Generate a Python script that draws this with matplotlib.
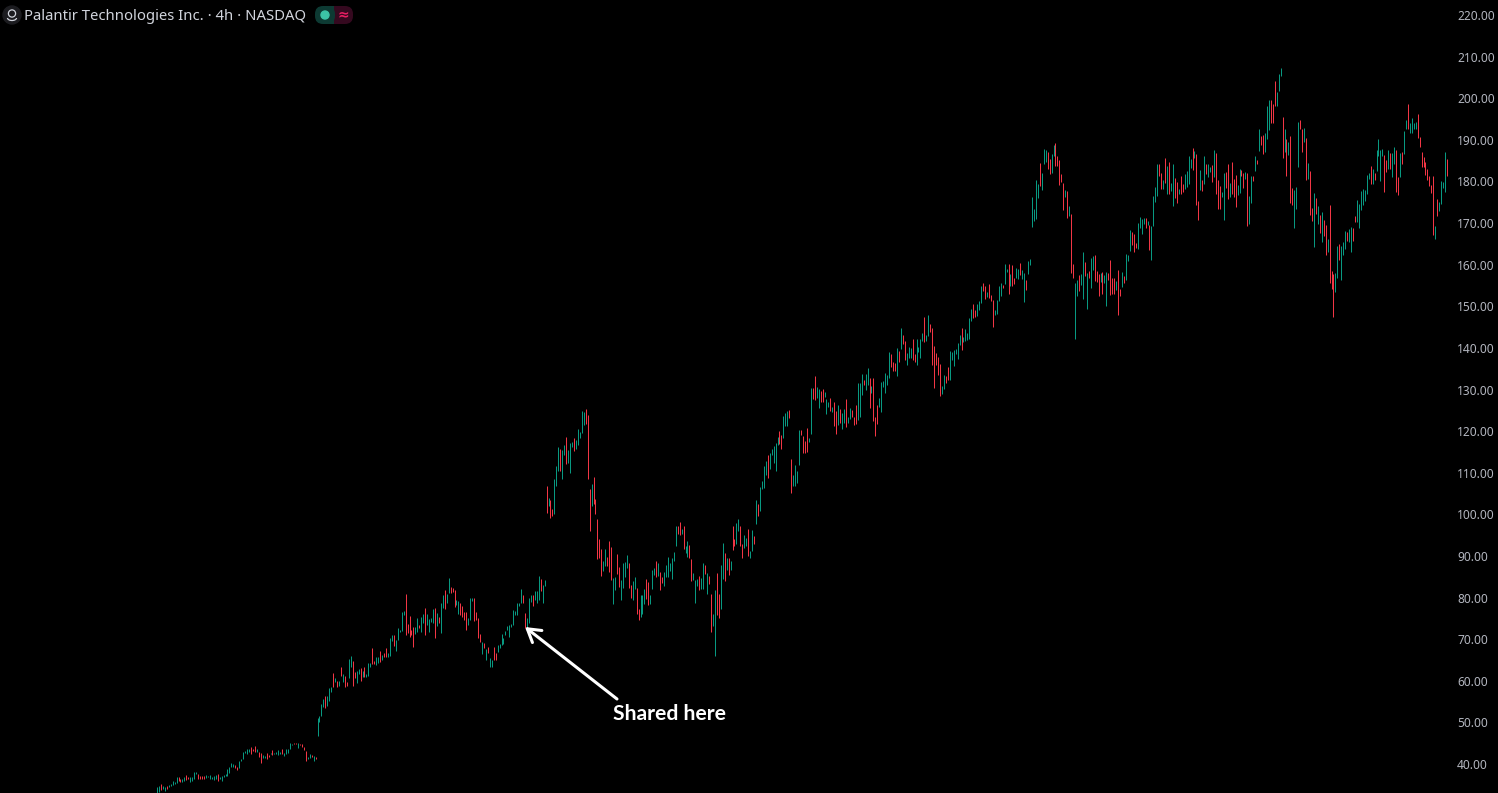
import numpy as np
import matplotlib
matplotlib.use("Agg")
import matplotlib.pyplot as plt
from matplotlib.patches import Circle, FancyBboxPatch, Arc, Rectangle

# bars, left to right, one section per price run
highs_a = [34.5,34.7,35.1,34.7,34.5,34.7,34.9,35.1,35.9,35.7, 36.8,36.9,36.5,36.5,36.9,37.3,36.8,36.9,36.9,38.1,
           38.1,37.7,37.1,37.1,37.2,37.3,37.2,37.3,36.9,37.1,37.3, 37.5,36.9,37.1,37.3,37.6,38.7,39.2,40.3,40.0,39.8,
           39.3,40.8,41.3,43.0,43.2,43.7,43.6,44.1,43.6,44.3, 43.7,42.9,42.7,42.1,42.0,42.6,42.1,42.7,43.3,42.7,42.9,
           43.3,42.9,43.5,42.7,43.6,43.6,45.1,44.9,45.0,45.0, 45.0,44.9,44.7,44.1,43.1,41.7,42.3,42.1,41.9,41.6]
lows_a = [33.0,33.3,33.7,33.9,33.5,34.1,34.5,34.7,34.9,35.2, 35.5,35.8,35.7,35.7,35.8,36.1,36.5,35.7,36.0,36.3,
          37.6,36.3,36.5,36.4,36.5,36.6,36.8,36.5,36.3,36.1,36.4, 36.0,36.5,35.9,36.9,37.1,37.1,37.9,39.2,39.3,39.0,
          38.5,39.0,40.8,41.2,42.7,42.5,42.9,42.5,43.2,42.9, 42.9,41.6,40.3,41.5,41.5,41.3,41.7,42.3,42.1,42.3,42.3,
          42.1,42.3,42.5,41.9,42.5,42.7,43.6,44.5,44.7,44.8, 43.9,44.5,44.1,43.3,40.7,41.2,41.5,41.7,40.8,41.2]
dirs_a = "ggrggrgggg" "grrggrrggg" "grrrrgggggg" "rggggggggr" "rggggggrrr" "grrggrrgrgg" "ggrgggggrr" "grrrrggrgr"

highs_b = [51.1,51.6,54.4,55.6,56.3,56.4,58.3,58.6,61.8,60.7, 59.9,59.9,63.2,61.6,61.1,59.6,65.2,65.9,64.7,62.1,
           62.3,62.8,63.0,62.3,63.2,61.6,64.2,64.2,67.9,64.8, 65.6,65.6,67.2,66.2,66.6,67.8,66.7,70.4,71.0,71.0,
           69.9,72.8,72.3,76.6,76.8,80.8,73.6,75.6,72.2,73.0,73.0, 75.2,73.4,75.4,76.0,77.6,76.0,74.8,75.1,77.2,77.5,
           76.4,75.3,78.8,80.7,81.8,80.8,84.6,82.6,82.4,81.8, 79.4,79.1,78.6,77.9,76.6,76.6,75.2,79.8,79.8,79.8,
           76.6,75.2,71.2,69.4,69.0,67.6,68.2,65.4,65.0,68.0, 66.7,68.6,68.8,71.2,70.2,72.0,73.1,73.4,73.6,77.0,
           76.8,78.6,78.8,82.0,80.6,76.4,75.2,79.9,80.6,80.6, 81.6,81.6,85.2,84.4,83.0,84.2]
lows_b = [46.8,50.1,51.5,53.6,53.4,53.9,55.1,57.4,58.6,59.6, 58.6,58.7,61.1,59.8,58.6,58.7,60.7,63.4,58.8,60.6,
          59.4,61.6,60.0,61.0,61.0,61.0,61.1,63.2,64.1,64.1, 63.8,64.3,64.6,65.0,65.6,65.8,65.6,66.0,69.6,68.3,
          67.2,69.8,71.8,72.0,75.8,71.1,71.4,70.6,71.1,68.0,71.2, 71.8,72.6,71.8,73.8,71.0,73.5,71.7,74.1,73.8,70.3,
          73.1,73.9,71.5,77.6,77.2,78.6,81.0,81.2,81.4,77.8, 78.2,76.0,75.8,75.4,74.6,72.3,73.4,74.7,79.2,74.4,
          74.6,70.2,69.4,66.4,67.8,65.0,66.6,63.2,63.4,65.0, 65.1,66.8,67.8,68.5,68.8,71.0,72.3,70.6,73.0,73.4,
          75.8,75.8,78.0,78.6,78.6,72.8,72.6,73.9,79.0,77.9, 79.4,78.6,79.4,81.6,78.6,82.8]
dirs_b = "ggggrgggrg" "rgrgrrggrr" "ggrgrgggrr" "ggrgrrgggr" "gggggrrrrrg" "grggrggggr" "grggrggrrr" "ggrrrrgggr" "rrrgrgrggr" "rggggggggg" "ggggrrgggr" "gggrgg"

highs_c = [106.8,104.0,103.5,101.3,108.5,111.5,116.3,115.7,115.5,116.7, 118.7,115.5,117.1,117.5,118.3,117.9,120.5,119.9,124.9,124.5,
           125.3,123.9,106.1,107.3,108.9,103.7,98.9,94.1,91.7,88.8, 91.7,89.7,93.6,92.1,84.8,85.0,90.5,87.3,84.2,88.4,
           88.6,90.3,88.2,83.0,84.0,85.0,82.2,77.3,80.5,80.6, 82.0,84.5,83.8,80.6,86.6,87.2,88.8,88.2,86.1,85.0,
           86.2,87.8,89.7,88.2,89.5,90.9,97.2,97.2,98.2,96.5, 97.2,92.3,93.6,92.7,89.3,86.0,84.2,84.5,85.2,84.8,
           88.4,87.8,85.8,85.2,80.9,76.1,81.8,86.0,80.9,87.8, 93.1,90.7,89.6,89.5,88.8,97.2,94.1,98.0,98.9,97.2,
           92.9,95.1,94.4,96.4,91.1,96.3,94.7,103.5,102.5,106.5, 107.9,111.5,112.9,114.3,114.8,115.6,116.4,117.1,118.7,120.0,
           119.1,123.7,124.3,124.9,125.1,113.2,109.5,111.9,110.4,120.3, 120.3,118.9,117.7,120.7,118.3]
lows_c = [100.3,102.0,99.2,99.6,100.0,106.8,110.5,110.4,108.5,114.3, 112.1,112.3,110.0,116.3,115.3,115.6,116.7,118.4,119.5,121.5,
          121.7,108.5,95.9,102.0,102.5,100.1,89.3,89.5,85.3,86.5, 87.7,87.7,86.2,84.2,78.5,81.8,85.7,82.6,79.3,82.2,
          85.0,87.0,82.2,79.8,79.3,82.0,76.1,74.5,75.4,76.1, 78.5,79.6,78.2,78.5,82.1,85.4,85.0,85.2,81.8,83.4,
          82.8,85.0,85.0,86.5,84.5,88.9,92.3,95.3,95.1,95.3, 91.7,90.7,89.7,89.5,84.0,84.2,78.8,82.8,81.8,82.0,
          82.0,85.7,80.9,83.3,71.8,73.2,66.0,75.8,75.2,77.3, 84.5,84.0,86.6,85.4,86.6,91.5,92.3,92.9,96.1,92.5,
          89.6,91.9,92.3,90.0,89.4,91.3,92.9,97.7,99.7,100.8, 106.0,106.4,109.5,108.7,110.9,114.3,112.3,110.5,116.7,116.9,
          115.7,118.4,121.3,121.3,123.1,105.2,106.7,106.8,107.6,111.9, 119.1,114.8,114.8,115.1,117.5]
dirs_c = "rgrrgggrgg" "rgggrggggg" "rrrgrrrrrg" "grrrggrrgg" "ggrrggrrgg" "grrgggrgrr" "gggggggrrg" "rggrrgggrg" "grgrrggrrg" "grgrgrrggr" "rggrggrgrg" "gggrgggggr" "rgggrrgggg" "rrrrg"

highs_d = [130.3,130.3,133.3,130.5,130.1,129.7,130.1,129.3,127.7,126.9, 127.9,125.9,126.9,124.8,126.3,125.3,124.3,125.3,127.7,123.3,
           125.6,125.1,123.3,126.3,131.5,131.5,133.7,132.3,133.7,135.2, 132.7,130.9,132.7,123.5,126.3,127.9,131.7,132.1,133.9,133.5,
           138.9,138.5,136.7,136.3,139.9,139.3,144.7,143.1,141.7,138.7, 140.1,139.9,142.1,138.5,142.1,140.1,142.1,143.5,147.4,143.1,
           148.0,145.7,144.8,140.4,138.7,137.9,136.1,130.8,133.5,133.2, 135.5,139.2,139.1,139.5,139.7,141.2,143.1,144.9,142.5,144.5,
           143.5,147.1,149.3,150.5,149.1,150.5,151.2,154.8,155.6,154.8, 153.5,155.3,152.7,151.5,149.2,151.6,154.8,155.6,155.1,160.1,
           158.9,160.1,157.7,159.9,156.9,159.1,158.9,160.5,158.7,158.1, 156.3,160.9,161.3]
lows_d = [119.3,127.7,127.5,127.9,125.6,126.9,126.9,128.1,124.1,125.9, 124.9,124.7,121.3,119.3,121.5,121.9,120.5,121.9,120.9,121.9,
          122.9,123.3,121.5,121.7,122.7,123.5,128.7,131.1,129.9,131.1, 125.6,129.1,122.4,118.9,121.6,125.9,124.7,130.7,129.1,131.1,
          132.7,135.3,134.5,134.5,133.2,136.5,139.7,140.9,137.1,135.9, 137.5,137.5,137.1,136.7,135.9,139.1,137.6,141.6,141.5,141.6,
          142.8,143.9,135.9,130.4,135.9,133.6,128.5,128.9,130.2,131.5, 132.3,132.4,137.1,135.7,138.5,137.3,140.7,139.5,141.5,141.7,
          142.0,142.1,146.5,147.2,147.5,147.6,149.1,150.8,153.7,151.7, 152.3,152.0,151.3,145.1,147.9,148.1,151.3,152.4,154.4,155.3,
          158.3,152.9,154.8,154.9,155.3,156.7,156.5,157.5,156.5,151.1, 153.9,157.7,159.9]
dirs_d = "grrggrrggg" "rgrrgrggrg" "grrrgggrgg" "rgrrrggggg" "grrrgrgrrg" "ggrrggggrg" "grrrrrrggr" "rggggggrgg" "gggrrgggrr" "grrrggggrg" "grgrrggrgg" "rgg"

highs_e = [176.3,173.4,180.4,179.4,184.5,182.0,187.9,187.6,187.1,185.4, 186.6,188.8,189.3,186.1,185.2,181.8,179.6,178.0,177.7,174.1,
           172.2,160.2,155.6,156.3,157.5,157.8,163.1,160.7,157.9,158.5, 161.6,162.1,162.3,158.5,157.8,157.9,158.3,157.5,158.3,158.0,
           161.1,156.8,156.8,156.1,158.7,154.2,158.3,157.3,162.6,162.3, 168.3,167.9,167.4,165.2,170.0,171.5,171.0,171.2,171.2,170.5,
           169.6,169.3,176.5,178.7,184.2,184.2,182.0,180.4,185.7,183.7, 184.7,179.6,184.2,180.8,179.9,178.2,181.3,179.4,181.8,182.5,
           186.1,185.4,188.1,187.3,186.6,175.3,182.8,180.4,186.1,184.2, 184.2,183.5,184.0,187.6,186.9,180.4,178.9,177.5,182.0,182.3,
           184.2,179.6,184.7,180.6,181.6,179.2,183.0,182.8,182.0,182.3, 182.0,176.5,181.3,181.3,186.1,185.2,192.6,190.9]
lows_e = [169.1,170.5,171.0,176.0,178.9,178.0,184.2,184.6,183.0,181.8, 182.1,186.1,183.6,183.7,179.2,179.9,173.2,176.3,171.2,171.7,
          158.0,156.8,142.2,152.5,153.7,155.1,151.8,157.3,149.4,156.8, 154.4,158.7,156.1,155.9,152.5,155.9,153.0,155.5,150.1,156.3,
          152.7,153.0,153.0,153.9,147.9,152.5,154.7,155.6,156.3,160.9, 163.3,164.7,163.1,164.0,163.8,168.8,167.4,169.8,168.8,169.6,
          163.5,161.1,169.3,175.1,176.5,181.3,178.2,178.2,179.6,177.0, 177.0,177.7,174.1,176.0,174.8,177.0,177.0,177.5,178.2,178.7,
          179.4,183.2,182.8,185.7,174.4,170.8,178.0,177.7,179.4,181.8, 181.1,182.3,179.9,181.1,177.0,173.4,173.4,176.3,170.7,178.4,
          175.8,176.3,177.0,176.3,173.9,176.8,177.2,181.3,178.4,180.6, 169.3,169.8,174.8,180.1,182.5,184.2,187.3,188.8]
dirs_e = "ggggrgggrr" "ggrrrrrgrg" "rrggrggrgr" "ggrrrgrggr" "rrrgrrgrgg" "grrrggggrg" "rggggrrgrg" "rggrrgrrgg" "ggrgrrgrgr" "ggrgrrrggr" "rgrrrggrrg" "rggrgrgr"

highs_f = [191.2,191.7,198.1,199.6,199.6,198.6,204.2,201.5,205.8,207.3, 195.5,192.6,190.2,189.5,190.9,178.4,178.0,178.7,194.3,194.8,
           192.6,192.9,190.5,184.5,182.5,173.6,177.2,176.0,174.1,172.0, 172.7,170.7,169.6,166.2,174.4,158.5,157.8,157.9,164.5,165.0,
           164.5,165.5,168.1,167.9,168.6,169.1,168.8,171.6,175.6,174.6, 177.7,178.2,178.0,181.6,182.0,183.7,183.0,182.0,187.6,190.2,
           187.6,187.8,186.4,185.2,187.6,186.9,186.9,188.3,187.6,181.1, 186.9,187.1,192.1,194.8,198.6,194.1,195.3,194.1,194.3,196.2,
           190.7,187.1,185.9,184.7,183.0,181.3,179.2,181.3,169.3,175.8, 175.1,180.1,179.9,187.1,185.4]
lows_f = [186.6,187.1,190.2,192.4,194.1,194.1,198.1,198.1,201.8,205.4, 185.7,187.1,181.3,186.4,174.8,174.4,168.8,173.4,183.5,192.6,
          187.1,189.5,180.4,180.6,172.0,170.5,164.3,172.2,169.8,167.6, 165.5,166.9,162.3,163.1,155.6,154.2,147.4,153.4,156.8,161.1,
          156.3,162.3,163.8,165.7,165.5,163.1,165.7,170.3,170.3,168.8, 173.2,174.4,175.3,177.0,180.6,179.4,179.4,180.4,182.5,186.1,
          180.1,186.1,177.5,182.3,183.0,183.0,181.1,184.2,177.5,176.8, 181.1,184.2,186.6,192.6,192.6,191.7,191.7,192.6,192.6,190.5,
          188.3,183.5,183.5,181.6,180.4,178.9,177.2,167.1,166.2,171.7, 172.9,174.6,178.4,177.5,181.3]
dirs_f = "rgggrrrggg" "rgrgrrgggr" "rgrgrrgrgr" "grrgrrrggr" "gggrggrrgg" "gggggrgrgg" "ggrrgrggrr" "grggrggggr" "rrrrrrrrgr" "ggggr"

tick_prices = list(range(40, 230, 10))
title_text = "Palantir Technologies Inc. \u00b7 4h \u00b7 NASDAQ"
note_text = "Shared here"

GREEN = "#089981"
RED = "#f23645"
W, H = 1498, 793

highs = highs_a + highs_b + highs_c + highs_d + highs_e + highs_f
lows = lows_a + lows_b + lows_c + lows_d + lows_e + lows_f
dirs = dirs_a + dirs_b + dirs_c + dirs_d + dirs_e + dirs_f
assert len(highs) == len(lows) == len(dirs), (len(highs), len(lows), len(dirs))

plt.rcParams["font.family"] = ["Noto Sans", "DejaVu Sans"]
fig = plt.figure(figsize=(W / 100, H / 100), dpi=100, facecolor="black")
ax = fig.add_axes([0, 0, 1, 1], facecolor="black")

x = np.arange(len(highs))
step = (1447 - 157) / (len(highs) - 1)
ax.set_xlim(-157 / step, (W - 157) / step)
# 764 px is 40.00, 41.61 px per 10.00
ax.set_ylim(40 - (H - 764) / 4.161, 40 + 764 / 4.161)

colors = [GREEN if d == "g" else RED for d in dirs]
ax.vlines(x, lows, highs, colors=colors, linewidth=0.72, capstyle="butt")

for s in ax.spines.values():
    s.set_visible(False)
ax.set_xticks([])
ax.yaxis.tick_right()
ax.set_yticks(tick_prices)
ax.set_yticklabels([f"{p:.2f}" for p in tick_prices], fontsize=8.6, color="#b2b5be")
ax.tick_params(axis="y", length=0, pad=-29.5)

# header and note are drawn on a pixel overlay
ov = fig.add_axes([0, 0, 1, 1], facecolor="none")
ov.set_xlim(0, W)
ov.set_ylim(H, 0)
ov.axis("off")

ov.add_patch(Circle((12, 15), 9, color="#1c1c20"))
ov.add_patch(Circle((12, 13.5), 3.6, fill=False, ec="#d1d4dc", lw=0.9))
ov.add_patch(Arc((12, 18), 9, 5, theta1=0, theta2=180, ec="#d1d4dc", lw=0.9))
ov.text(24, 16.5, title_text, fontsize=10.7, color="#d1d4dc", va="center", ha="left")

ov.add_patch(FancyBboxPatch((326, 6), 27, 18, boxstyle="round,pad=0,rounding_size=8", fc="#35091f", ec="none"))
ov.add_patch(FancyBboxPatch((315, 6), 20, 18, boxstyle="round,pad=0,rounding_size=8", fc="#0d3a33", ec="none"))
ov.add_patch(Rectangle((325, 6), 9, 18, fc="#0d3a33", ec="none"))
ov.add_patch(Circle((325, 15), 4, color="#3cc2a6"))
ov.text(343.5, 14.5, "\u2248", fontsize=10, color="#e91e63", ha="center", va="center", fontweight="bold")

ov.annotate("", xy=(525, 627), xytext=(617, 699),
            arrowprops=dict(arrowstyle="->,head_length=0.9,head_width=0.55", color="white", lw=2.2, shrinkA=0, shrinkB=0))
ov.text(669.5, 714, note_text, fontsize=15.2, fontweight="bold", family=["Lato", "DejaVu Sans"], color="white", ha="center", va="center")

fig.savefig("out.png", dpi=100, facecolor="black")
